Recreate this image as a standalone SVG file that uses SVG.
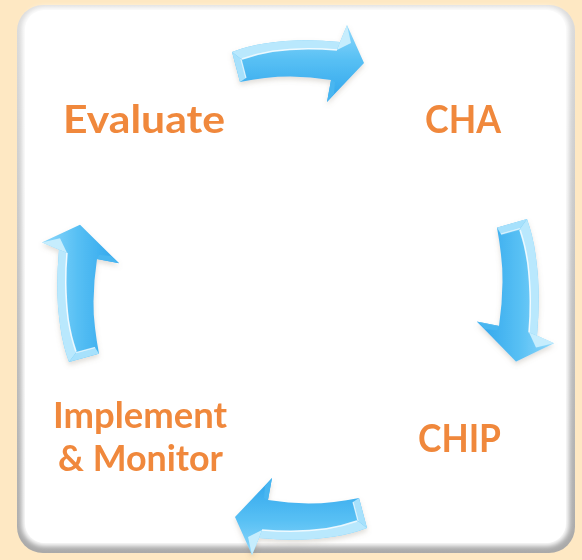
<svg xmlns="http://www.w3.org/2000/svg" width="582" height="560" viewBox="0 0 582 560">
  <style>
    .label { font-family: Lato, "Open Sans", "Liberation Sans", sans-serif; font-weight: 700; fill: #F0883C; }
    .big { font-size: 39px; }
    .mid { font-size: 35.5px; }
  </style>
  <defs>
    <linearGradient id="bodyGrad" x1="0" y1="0" x2="0" y2="1">
      <stop offset="0" stop-color="#8fd8fb"/>
      <stop offset="0.45" stop-color="#58c0f4"/>
      <stop offset="1" stop-color="#2ea5ec"/>
    </linearGradient>
    <linearGradient id="panelEdge" x1="0" y1="0" x2="0" y2="1">
      <stop offset="0" stop-color="#dcdcdc"/>
      <stop offset="1" stop-color="#a9a9a9"/>
    </linearGradient>
    <filter id="soft" x="-5%" y="-5%" width="110%" height="110%">
      <feGaussianBlur stdDeviation="2.5"/>
    </filter>
    <filter id="shade" x="-20%" y="-20%" width="140%" height="150%">
      <feDropShadow dx="0" dy="3" stdDeviation="2.5" flood-color="#8a7a6a" flood-opacity="0.25"/>
    </filter>
    <!-- curved bevelled arrow, pointing right (clockwise along the top) -->
    <g id="arrow">
      <path fill="url(#bodyGrad)" d="M232,52 Q275,36 340,42 L347,25 L364,63 L327,102 L331,80 Q285,72 240,82 Z"/>
      <!-- upper bevel band -->
      <path fill="#b9e8fd" d="M232,52 Q275,36 340,42 L337,50 Q280,45 241,59 Z"/>
      <!-- tail end face -->
      <path fill="#a7e1fc" d="M232,52 L241,59 L246,78 L240,82 Z"/>
      <!-- back faces of the head -->
      <path fill="#c6edfd" d="M340,42 L347,25 L351,43 L337,50 Z"/>
      <path fill="#48b6f0" d="M331,80 L327,102 L334,94 L335,82 Z"/>
      <path fill="none" stroke="#ffffff" stroke-width="1.6" stroke-opacity="0.85" d="M242,59 Q280,45 337,50"/>
      <path fill="none" stroke="#ffffff" stroke-width="1.2" stroke-opacity="0.7" d="M241,59 L246,78"/>
    </g>
  </defs>

  <rect width="582" height="560" fill="#FEE8C3"/>

  <!-- rounded panel with soft grey rim -->
  <g id="panel">
    <rect x="17" y="5" width="558" height="548" rx="26" fill="url(#panelEdge)"/>
    <rect x="22" y="7" width="547" height="539" rx="22" fill="#ffffff" filter="url(#soft)"/>
    <rect x="25" y="10" width="541" height="533" rx="20" fill="#ffffff"/>
  </g>

  <g id="connectors" filter="url(#shade)">
    <use href="#arrow"/>
    <use href="#arrow" transform="translate(0 218) scale(1 1.08) translate(0 -218) rotate(90 296 283)"/>
    <use href="#arrow" transform="rotate(180 299.5 290)"/>
    <use href="#arrow" transform="translate(0 362) scale(1 1.04) translate(0 -362) rotate(-90 305.5 288.5)"/>
  </g>

  <g id="evaluate">
    <text class="label big" x="63" y="133" textLength="162" lengthAdjust="spacingAndGlyphs">Evaluate</text>
  </g>
  <g id="cha">
    <text class="label big" x="425" y="133" textLength="76" lengthAdjust="spacingAndGlyphs">CHA</text>
  </g>
  <g id="chip">
    <text class="label big" x="418" y="452" textLength="83" lengthAdjust="spacingAndGlyphs">CHIP</text>
  </g>
  <g id="implement-monitor">
    <text class="label mid" x="53" y="428" textLength="174" lengthAdjust="spacingAndGlyphs">Implement</text>
    <text class="label mid" x="58" y="471" textLength="165" lengthAdjust="spacingAndGlyphs">&amp; Monitor</text>
  </g>
</svg>
